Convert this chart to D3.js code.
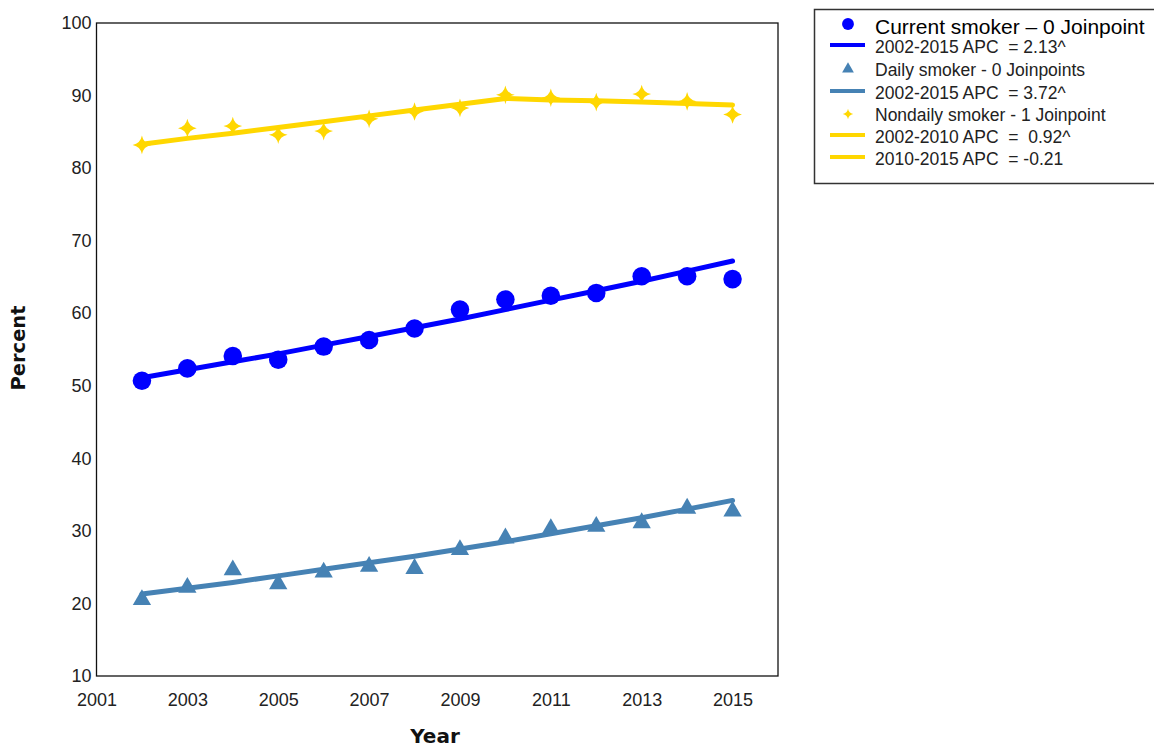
<!DOCTYPE html>
<html>
<head>
<meta charset="utf-8">
<script src="https://cdn.jsdelivr.net/npm/d3@7"></script>
<style>
  html, body { margin: 0; padding: 0; background: #fff; }
  svg { display: block; font-family: "Liberation Sans", Arial, sans-serif; }
</style>
</head>
<body>
<svg id="chart" width="1154" height="749"></svg>
<script>
// Survey years
const years = [2002, 2003, 2004, 2005, 2006, 2007, 2008, 2009, 2010, 2011, 2012, 2013, 2014, 2015];

// Observed percentages
const currentObserved  = [50.7, 52.4, 54.1, 53.6, 55.4, 56.3, 57.9, 60.5, 61.9, 62.4, 62.8, 65.1, 65.1, 64.7];
const dailyObserved    = [20.5, 22.2, 24.6, 22.7, 24.3, 25.1, 24.8, 27.4, 29.0, 30.3, 30.6, 31.1, 33.1, 32.7];
const nondailyObserved = [83.2, 85.5, 85.8, 84.6, 85.1, 86.8, 87.8, 88.3, 90.1, 89.7, 89.1, 90.2, 89.2, 87.4];

// Joinpoint model fitted values
const currentFitted  = [51.1, 52.2, 53.3, 54.4, 55.6, 56.8, 58.0, 59.2, 60.5, 61.8, 63.1, 64.4, 65.8, 67.2];
const dailyFitted    = [21.3, 22.1, 22.9, 23.8, 24.7, 25.6, 26.5, 27.5, 28.5, 29.6, 30.7, 31.8, 33.0, 34.2];
const nondailyFitted = [83.3, 84.1, 84.8, 85.6, 86.4, 87.2, 88.0, 88.8, 89.6, 89.4, 89.3, 89.1, 88.9, 88.7];

// Axis ticks
const xTicks = [2001, 2003, 2005, 2007, 2009, 2011, 2013, 2015];
const yTicks = [10, 20, 30, 40, 50, 60, 70, 80, 90, 100];

// Legend rows
const legendLabels = [
  "Current smoker \u2013 0 Joinpoint",
  "2002-2015 APC  = 2.13^",
  "Daily smoker - 0 Joinpoints",
  "2002-2015 APC  = 3.72^",
  "Nondaily smoker - 1 Joinpoint",
  "2002-2010 APC  =  0.92^",
  "2010-2015 APC  = -0.21"
];

const BLUE = "#0000ff", STEEL = "#4682b4", GOLD = "#ffd700";

const svg = d3.select("#chart");
const plot = { left: 96.5, right: 778, top: 23, bottom: 676 };

const x = d3.scaleLinear().domain([2001, 2016]).range([plot.left, plot.right]);
const y = d3.scaleLinear().domain([10, 100]).range([plot.bottom, plot.top]);

// Four-pointed star with concave sides
const star4 = {
  draw(ctx, size) {
    const R = Math.sqrt(size) * 0.58, r = R * 0.22;
    const pts = [];
    for (let i = 0; i < 4; i++) {
      const a = i * Math.PI / 2 - Math.PI / 2;
      pts.push([Math.cos(a) * R, Math.sin(a) * R]);
    }
    ctx.moveTo(pts[0][0], pts[0][1]);
    for (let i = 0; i < 4; i++) {
      const p = pts[(i + 1) % 4];
      const am = (i + 0.5) * Math.PI / 2 - Math.PI / 2;
      ctx.quadraticCurveTo(Math.cos(am) * r, Math.sin(am) * r, p[0], p[1]);
    }
    ctx.closePath();
  }
};

// Plot frame
svg.append("rect")
  .attr("x", plot.left).attr("y", plot.top)
  .attr("width", plot.right - plot.left).attr("height", plot.bottom - plot.top)
  .attr("fill", "none").attr("stroke", "#111").attr("stroke-width", 1.3);

// Axes (labels only, no tick marks)
const yAxis = d3.axisLeft(y).tickValues(yTicks).tickSize(0).tickPadding(5).tickFormat(d3.format("d"));
const gy = svg.append("g").attr("transform", `translate(${plot.left},0)`).call(yAxis);
gy.select(".domain").remove();
gy.selectAll("text").attr("font-size", 18).attr("fill", "#222")
  .attr("font-family", "Liberation Sans, Arial, sans-serif");

const xAxis = d3.axisBottom(x).tickValues(xTicks).tickSize(0).tickPadding(17).tickFormat(d3.format("d"));
const gx = svg.append("g").attr("transform", `translate(0,${plot.bottom})`).call(xAxis);
gx.select(".domain").remove();
gx.selectAll("text").attr("font-size", 18).attr("fill", "#222")
  .attr("font-family", "Liberation Sans, Arial, sans-serif");

// Axis titles
svg.append("text").attr("x", 435).attr("y", 743)
  .attr("text-anchor", "middle").attr("font-size", 20).attr("font-weight", "bold").attr("fill", "#111")
  .attr("font-family", "DejaVu Sans, Verdana, sans-serif")
  .text("Year");
svg.append("text").attr("transform", "translate(25,348) rotate(-90)")
  .attr("text-anchor", "middle").attr("font-size", 19.5).attr("font-weight", "bold").attr("fill", "#111")
  .attr("font-family", "DejaVu Sans, Verdana, sans-serif")
  .text("Percent");

const series = [
  { obs: currentObserved,  fit: currentFitted,  color: BLUE,  symbol: d3.symbolCircle,   size: 270 },
  { obs: dailyObserved,    fit: dailyFitted,    color: STEEL, symbol: d3.symbolTriangle, size: 145 },
  { obs: nondailyObserved, fit: nondailyFitted, color: GOLD,  symbol: star4,             size: 260 }
];

const line = d3.line().x(d => x(d[0])).y(d => y(d[1]));

series.forEach(s => {
  svg.append("g").selectAll("path")
    .data(years.map((yr, i) => [yr, s.obs[i]]))
    .join("path")
    .attr("transform", d => `translate(${x(d[0])},${y(d[1])})`)
    .attr("d", d3.symbol().type(s.symbol).size(s.size))
    .attr("fill", s.color);

  svg.append("path")
    .datum(years.map((yr, i) => [yr, s.fit[i]]))
    .attr("d", line)
    .attr("fill", "none").attr("stroke", s.color)
    .attr("stroke-width", 5).attr("stroke-linecap", "round").attr("stroke-linejoin", "round");
});

// Legend
const lg = svg.append("g");
lg.append("rect").attr("x", 814.5).attr("y", 9.5).attr("width", 360).attr("height", 174)
  .attr("fill", "#fff").attr("stroke", "#333").attr("stroke-width", 1.5);

const rowY = [28, 48, 71, 94, 116, 138, 160];
const rowKind = [
  { type: "symbol", symbol: d3.symbolCircle,   size: 110, color: BLUE },
  { type: "line", color: BLUE },
  { type: "symbol", symbol: d3.symbolTriangle, size: 60,  color: STEEL },
  { type: "line", color: STEEL },
  { type: "symbol", symbol: star4,             size: 80,  color: GOLD },
  { type: "line", color: GOLD },
  { type: "line", color: GOLD }
];

legendLabels.forEach((label, i) => {
  const k = rowKind[i];
  const cy = rowY[i];
  if (k.type === "symbol") {
    lg.append("path").attr("transform", `translate(848,${i === 0 ? cy - 4 : cy - 2})`)
      .attr("d", d3.symbol().type(k.symbol).size(k.size)).attr("fill", k.color);
  } else {
    lg.append("line").attr("x1", 830).attr("x2", 865).attr("y1", cy - 3).attr("y2", cy - 3)
      .attr("stroke", k.color).attr("stroke-width", 4);
  }
  lg.append("text").attr("x", 875).attr("y", cy)
    .attr("dominant-baseline", "middle")
    .attr("font-size", i === 0 ? 21 : 17.5)
    .attr("fill", i === 0 ? "#000" : "#222")
    .style("white-space", "pre")
    .text(label);
});
</script>
</body>
</html>
